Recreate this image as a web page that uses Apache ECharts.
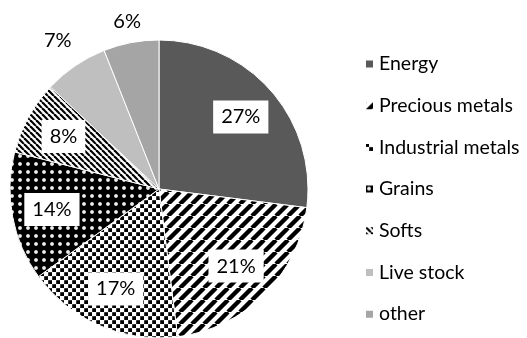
<!DOCTYPE html>
<html>
<head>
<meta charset="utf-8">
<script src="https://cdn.jsdelivr.net/npm/echarts@6/dist/echarts.min.js"></script>
<style>
html,body{margin:0;padding:0;background:#fff;}
#chart{width:527px;height:338px;}
</style>
</head>
<body>
<div id="chart"></div>
<script>
const categories = ['Energy', 'Precious metals', 'Industrial metals', 'Grains', 'Softs', 'Live stock', 'other'];
const values = [27, 21, 17, 14, 8, 7, 6];
const labelPlacement = ['in', 'in', 'in', 'in', 'in', 'out', 'out2'];

function makeCanvas(n, draw) {
  const c = document.createElement('canvas');
  c.width = n; c.height = n;
  const ctx = c.getContext('2d');
  draw(ctx, n);
  return { image: c, repeat: 'repeat' };
}
const patPrecious = makeCanvas(12, (ctx, n) => {
  ctx.fillStyle = '#fff'; ctx.fillRect(0, 0, n, n);
  ctx.strokeStyle = '#000'; ctx.lineWidth = 4.4;
  ctx.filter = 'blur(0.6px)';
  for (let k = -1; k <= 1; k++) {
    ctx.beginPath(); ctx.moveTo(k * n, n); ctx.lineTo(k * n + n, 0); ctx.stroke();
  }
});
const patIndustrial = makeCanvas(8, (ctx, n) => {
  ctx.fillStyle = '#fff'; ctx.fillRect(0, 0, n, n);
  ctx.fillStyle = '#000';
  ctx.fillRect(0.2, 0.2, 3.8, 3.8);
  ctx.fillRect(4.2, 4.2, 3.8, 3.8);
});
const patGrains = makeCanvas(8, (ctx, n) => {
  ctx.fillStyle = '#000'; ctx.fillRect(0, 0, n, n);
  const g = ctx.createRadialGradient(4, 4, 0, 4, 4, 2.4);
  g.addColorStop(0, '#fff'); g.addColorStop(0.6, '#ddd'); g.addColorStop(1, '#000');
  ctx.fillStyle = g;
  ctx.beginPath(); ctx.arc(4, 4, 2.4, 0, Math.PI * 2); ctx.fill();
});
const patSofts = makeCanvas(6, (ctx, n) => {
  ctx.fillStyle = '#fff'; ctx.fillRect(0, 0, n, n);
  ctx.strokeStyle = '#000'; ctx.lineWidth = 2.2;
  for (let k = -1; k <= 1; k++) {
    ctx.beginPath(); ctx.moveTo(k * n, 0); ctx.lineTo(k * n + n, n); ctx.stroke();
  }
});
const fills = ['#595959', patPrecious, patIndustrial, patGrains, patSofts, '#bfbfbf', '#a5a5a5'];

const FONT = 'Lato, "Open Sans", sans-serif';
const center = [159, 189];

const mainData = categories.map((n, i) => ({ name: n, value: values[i], itemStyle: { color: fills[i] } }));
const labelStyle = {
  formatter: '{c}%', color: '#000', fontFamily: FONT, fontSize: 20,
  backgroundColor: '#fff', padding: [7, 8, 6, 8]
};
function labelData(kind) {
  return categories.map((n, i) => ({ name: n, value: values[i], label: { show: labelPlacement[i] === kind } }));
}
function labelSeries(outerR, kind) {
  return {
    type: 'pie', center: center, radius: [0, outerR], startAngle: 90, clockwise: true, silent: true,
    avoidLabelOverlap: false,
    itemStyle: { color: 'rgba(0,0,0,0)' },
    label: Object.assign({ position: 'inside' }, labelStyle),
    labelLine: { show: false },
    emphasis: { disabled: true },
    data: labelData(kind)
  };
}

const chart = echarts.init(document.getElementById('chart'), null, { renderer: 'canvas' });
chart.setOption({
  animation: false,
  backgroundColor: '#fff',
  legend: {
    orient: 'vertical', left: 359, top: 48,
    icon: 'rect', itemWidth: 9, itemHeight: 9, itemGap: 19.7,
    textStyle: { fontFamily: FONT, fontSize: 19.5, color: '#000', lineHeight: 22 },
    data: categories
  },
  series: [
    {
      type: 'pie', center: center, radius: 149, startAngle: 90, clockwise: true,
      label: { show: false }, labelLine: { show: false },
      itemStyle: { borderColor: '#fff', borderWidth: 1 },
      emphasis: { disabled: true },
      data: mainData
    },
    labelSeries(212, 'in'),
    labelSeries(354, 'out'),
    labelSeries(334, 'out2')
  ]
});
</script>
</body>
</html>
